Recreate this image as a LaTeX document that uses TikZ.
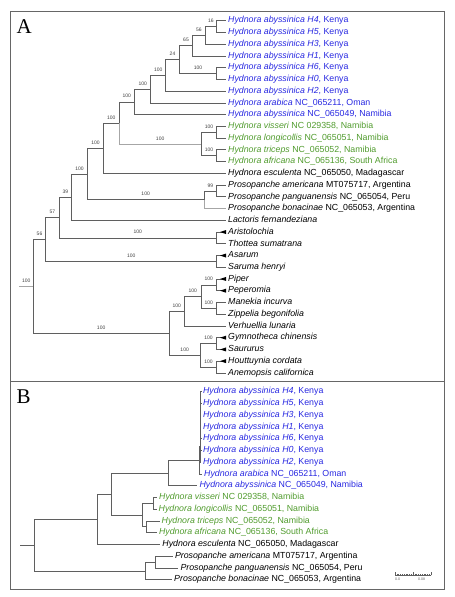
\documentclass[tikz,border=0pt]{standalone}
\usepackage{fontspec}
\setmainfont{Liberation Serif}
\setsansfont{Liberation Sans}
\usepackage{xcolor}
\definecolor{hblue}{RGB}{40,40,225}
\definecolor{hgreen}{RGB}{80,155,45}
\definecolor{branchgrey}{RGB}{95,95,95}

\begin{document}
\begin{tikzpicture}[x=1pt,y=-1pt,
    leaf/.style={anchor=west, inner sep=2pt, font=\sffamily\fontsize{8.8}{10}\selectfont, text height=6.3pt, text depth=1.8pt},
    blueleaf/.style={leaf, text=hblue},
    greenleaf/.style={leaf, text=hgreen},
    branch/.style={draw=branchgrey, line width=0.7pt},
    faint/.style={draw=black!35, line width=0.7pt},
    boot/.style={pos=0.75, above=3pt, inner sep=0.5pt, font=\sffamily\fontsize{5}{5}\selectfont, text=black!75},
    panel/.style={draw=black!60, line width=0.9pt},
    letter/.style={anchor=base west, inner sep=0pt, font=\rmfamily\fontsize{21}{21}\selectfont}]
            \useasboundingbox (0,0) rectangle (455,597);
            \draw[panel] (10.3,11.3) rectangle (444.5,381.7);
            \draw[panel] (10.3,381.7) rectangle (444.5,589.5);
            \node[letter] (labA) at (16.5,33.3) {A};
            \node[letter] (labB) at (16.5,403.6) {B};

            % panel A: leaves
            \node[blueleaf] (aH4) at (226,20.7) {\textit{Hydnora abyssinica H4}, Kenya};
            \node[blueleaf] (aH5) at (226,32.44) {\textit{Hydnora abyssinica H5}, Kenya};
            \node[blueleaf] (aH3) at (226,44.18) {\textit{Hydnora abyssinica H3}, Kenya};
            \node[blueleaf] (aH1) at (226,55.92) {\textit{Hydnora abyssinica H1}, Kenya};
            \node[blueleaf] (aH6) at (226,67.66) {\textit{Hydnora abyssinica H6}, Kenya};
            \node[blueleaf] (aH0) at (226,79.4) {\textit{Hydnora abyssinica H0}, Kenya};
            \node[blueleaf] (aH2) at (226,91.14) {\textit{Hydnora abyssinica H2}, Kenya};
            \node[blueleaf] (aArab) at (226,102.88) {\textit{Hydnora arabica} NC\_065211, Oman};
            \node[blueleaf] (aAbyN) at (226,114.62) {\textit{Hydnora abyssinica} NC\_065049, Namibia};
            \node[greenleaf] (aViss) at (226,126.36) {\textit{Hydnora visseri} NC 029358, Namibia};
            \node[greenleaf] (aLong) at (226,138.1) {\textit{Hydnora longicollis} NC\_065051, Namibia};
            \node[greenleaf] (aTric) at (226,149.84) {\textit{Hydnora triceps} NC\_065052, Namibia};
            \node[greenleaf] (aAfri) at (226,161.58) {\textit{Hydnora africana} NC\_065136, South Africa};
            \node[leaf] (aEsc) at (226,173.32) {\textit{Hydnora esculenta} NC\_065050, Madagascar};
            \node[leaf] (aAmer) at (226,185.06) {\textit{Prosopanche americana} MT075717, Argentina};
            \node[leaf] (aPang) at (226,196.8) {\textit{Prosopanche panguanensis} NC\_065054, Peru};
            \node[leaf] (aBona) at (226,208.54) {\textit{Prosopanche bonacinae} NC\_065053, Argentina};
            \node[leaf] (aLact) at (226,220.28) {\textit{Lactoris fernandeziana}};
            \node[leaf] (aArist) at (226,232.02) {\textit{Aristolochia}};
            \node[leaf] (aThot) at (226,243.76) {\textit{Thottea sumatrana}};
            \node[leaf] (aAsar) at (226,255.5) {\textit{Asarum}};
            \node[leaf] (aSaru) at (226,267.24) {\textit{Saruma henryi}};
            \node[leaf] (aPip) at (226,278.98) {\textit{Piper}};
            \node[leaf] (aPep) at (226,290.72) {\textit{Peperomia}};
            \node[leaf] (aMan) at (226,302.46) {\textit{Manekia incurva}};
            \node[leaf] (aZip) at (226,314.2) {\textit{Zippelia begonifolia}};
            \node[leaf] (aVerh) at (226,325.94) {\textit{Verhuellia lunaria}};
            \node[leaf] (aGymn) at (226,337.68) {\textit{Gymnotheca chinensis}};
            \node[leaf] (aSaur) at (226,349.42) {\textit{Saururus}};
            \node[leaf] (aHout) at (226,361.16) {\textit{Houttuynia cordata}};
            \node[leaf] (aAnem) at (226,372.9) {\textit{Anemopsis californica}};

            % panel A: internal nodes
            \coordinate (a1) at (216.7,26.57);
            \coordinate (a2) at (205,35.38);
            \coordinate (a3) at (192.7,45.65);
            \coordinate (a4) at (216.7,73.53);
            \coordinate (a5) at (179.3,59.59);
            \coordinate (a6) at (165.7,75.37);
            \coordinate (a7) at (150.7,89.12);
            \coordinate (a8) at (134.7,101.87);
            \coordinate (g1) at (216.7,132.23);
            \coordinate (g2) at (216.7,155.71);
            \coordinate (g3) at (201.3,143.97);
            \coordinate (a9) at (119,122.92);
            \coordinate (a10) at (103.7,148.12);
            \coordinate (p1) at (216.7,190.93);
            \coordinate (p2) at (204,199.74);
            \coordinate (a11) at (87.3,173.93);
            \coordinate (a12) at (71.7,197.1);
            \coordinate (r1) at (216.7,237.89);
            \coordinate (a13) at (59,217.5);
            \coordinate (r2) at (216.7,261.37);
            \coordinate (a14) at (45.7,239.43);
            \coordinate (pp1) at (216.7,284.85);
            \coordinate (pp2) at (216.7,308.33);
            \coordinate (pp3) at (201,296.59);
            \coordinate (pp4) at (184.7,311.27);
            \coordinate (s1) at (216.7,343.55);
            \coordinate (s2) at (216.7,367.03);
            \coordinate (s3) at (200.3,355.29);
            \coordinate (pp5) at (169,333.28);
            \coordinate (aroot) at (33.3,286.36);
            \coordinate (astub) at (19.3,286.36);

            % panel A: branches
            \draw[faint] (astub) -- node[boot,pos=0.5]{100} (aroot);
            \draw[branch] (aroot) |- node[boot]{56} (a14);
            \draw[branch] (aroot) |- node[boot]{100} (pp5);
            \draw[branch] (a14) |- node[boot]{57} (a13);
            \draw[branch] (a14) |- node[boot]{100} (r2);
            \draw[branch] (a13) |- node[boot]{39} (a12);
            \draw[branch] (a13) |- node[boot]{100} (r1);
            \draw[branch] (a12) |- node[boot]{100} (a11);
            \draw[branch] (a12) |- (aLact.west);
            \draw[branch] (a11) |- node[boot]{100} (a10);
            \draw[branch] (a11) |- node[boot]{100} (p2);
            \draw[branch] (a10) |- node[boot]{100} (a9);
            \draw[branch] (a10) |- (aEsc.west);
            \draw[branch] (a9) |- node[boot]{100} (a8);
            \draw[faint] (a9) |- node[boot]{100} (g3);
            \draw[branch] (a8) |- node[boot]{100} (a7);
            \draw[branch] (a8) |- (aAbyN.west);
            \draw[branch] (a7) |- node[boot]{100} (a6);
            \draw[branch] (a7) |- (aArab.west);
            \draw[branch] (a6) |- node[boot]{24} (a5);
            \draw[branch] (a6) |- (aH2.west);
            \draw[branch] (a5) |- node[boot]{65} (a3);
            \draw[branch] (a5) |- node[boot]{100} (a4);
            \draw[branch] (a3) |- node[boot]{56} (a2);
            \draw[branch] (a3) |- (aH1.west);
            \draw[branch] (a2) |- node[boot]{16} (a1);
            \draw[branch] (a2) |- (aH3.west);
            \draw[branch] (a1) |- (aH4.west) (a1) |- (aH5.west);
            \draw[branch] (a4) |- (aH6.west) (a4) |- (aH0.west);
            \draw[branch] (g3) |- node[boot]{100} (g1);
            \draw[branch] (g3) |- node[boot]{100} (g2);
            \draw[branch] (g1) |- (aViss.west) (g1) |- (aLong.west);
            \draw[branch] (g2) |- (aTric.west) (g2) |- (aAfri.west);
            \draw[branch] (p2) |- node[boot]{99} (p1);
            \draw[faint] (p2) |- (aBona.west);
            \draw[branch] (p1) |- (aAmer.west) (p1) |- (aPang.west);
            \draw[branch] (r1) |- (aArist.west) (r1) |- (aThot.west);
            \draw[branch] (r2) |- (aAsar.west) (r2) |- (aSaru.west);
            \draw[branch] (pp5) |- node[boot]{100} (pp4);
            \draw[branch] (pp5) |- node[boot]{100} (s3);
            \draw[branch] (pp4) |- node[boot]{100} (pp3);
            \draw[branch] (pp4) |- (aVerh.west);
            \draw[branch] (pp3) |- node[boot]{100} (pp1);
            \draw[branch] (pp3) |- node[boot]{100} (pp2);
            \draw[branch] (pp1) |- (aPip.west) (pp1) |- (aPep.west);
            \draw[branch] (pp2) |- (aMan.west) (pp2) |- (aZip.west);
            \draw[branch] (s3) |- node[boot]{100} (s1);
            \draw[branch] (s3) |- node[boot]{100} (s2);
            \draw[branch] (s1) |- (aGymn.west) (s1) |- (aSaur.west);
            \draw[branch] (s2) |- (aHout.west) (s2) |- (aAnem.west);

            % collapsed clades
            \fill (aArist.west) ++(-6,0) -- ++(6,-2) -- ++(0,4) -- cycle;
            \fill (aAsar.west) ++(-6,0) -- ++(6,-2) -- ++(0,4) -- cycle;
            \fill (aPip.west) ++(-6,0) -- ++(6,-2) -- ++(0,4) -- cycle;
            \fill (aPep.west) ++(-6,0) -- ++(6,-2) -- ++(0,4) -- cycle;
            \fill (aGymn.west) ++(-6,0) -- ++(6,-2) -- ++(0,4) -- cycle;
            \fill (aSaur.west) ++(-6,0) -- ++(6,-2) -- ++(0,4) -- cycle;
            \fill (aHout.west) ++(-6,0) -- ++(6,-2) -- ++(0,4) -- cycle;

            % panel B: leaves
            \node[blueleaf] (bH4) at (200.9,391.7) {\textit{Hydnora abyssinica H4}, Kenya};
            \node[blueleaf] (bH5) at (200.9,403.45) {\textit{Hydnora abyssinica H5}, Kenya};
            \node[blueleaf] (bH3) at (200.9,415.2) {\textit{Hydnora abyssinica H3}, Kenya};
            \node[blueleaf] (bH1) at (200.9,426.95) {\textit{Hydnora abyssinica H1}, Kenya};
            \node[blueleaf] (bH6) at (200.9,438.7) {\textit{Hydnora abyssinica H6}, Kenya};
            \node[blueleaf] (bH0) at (200.9,450.45) {\textit{Hydnora abyssinica H0}, Kenya};
            \node[blueleaf] (bH2) at (200.9,462.2) {\textit{Hydnora abyssinica H2}, Kenya};
            \node[blueleaf] (bArab) at (202,473.95) {\textit{Hydnora arabica} NC\_065211, Oman};
            \node[blueleaf] (bAbyN) at (197.3,485.7) {\textit{Hydnora abyssinica} NC\_065049, Namibia};
            \node[greenleaf] (bViss) at (157,497.45) {\textit{Hydnora visseri} NC 029358, Namibia};
            \node[greenleaf] (bLong) at (156.5,509.2) {\textit{Hydnora longicollis} NC\_065051, Namibia};
            \node[greenleaf] (bTric) at (159.5,520.95) {\textit{Hydnora triceps} NC\_065052, Namibia};
            \node[greenleaf] (bAfri) at (156.8,532.7) {\textit{Hydnora africana} NC\_065136, South Africa};
            \node[leaf] (bEsc) at (160.2,544.45) {\textit{Hydnora esculenta} NC\_065050, Madagascar};
            \node[leaf] (bAmer) at (172.8,556.2) {\textit{Prosopanche americana} MT075717, Argentina};
            \node[leaf] (bPang) at (178.3,567.95) {\textit{Prosopanche panguanensis} NC\_065054, Peru};
            \node[leaf] (bBona) at (172,579.7) {\textit{Prosopanche bonacinae} NC\_065053, Argentina};

            % panel B: internal nodes
            \coordinate (bk1) at (200.6,397.58);
            \coordinate (bk2) at (200.45,406.39);
            \coordinate (bk3) at (200.3,416.67);
            \coordinate (bk4) at (200.6,444.58);
            \coordinate (bk5) at (200.15,430.62);
            \coordinate (bK) at (200,446.41);
            \coordinate (bKA) at (199.2,460.18);
            \coordinate (bA) at (168.5,472.94);
            \coordinate (bg1) at (153.3,503.33);
            \coordinate (bg2) at (146.7,526.83);
            \coordinate (bg3) at (142.7,515.08);
            \coordinate (bAG) at (111,494.01);
            \coordinate (bH) at (97.7,519.23);
            \coordinate (bp1) at (155.7,562.08);
            \coordinate (bp2) at (145.7,570.89);
            \coordinate (broot) at (34,545.06);
            \coordinate (bstub) at (20,545.06);

            % panel B: branches
            \draw[branch] (bstub) -- (broot);
            \draw[branch] (broot) |- (bH) (broot) |- (bp2);
            \draw[branch] (bH) |- (bAG) (bH) |- (bEsc.west);
            \draw[branch] (bAG) |- (bA) (bAG) |- (bg3);
            \draw[branch] (bA) |- (bKA) (bA) |- (bAbyN.west);
            \draw[branch] (bKA) |- (bK) (bKA) |- (bArab.west);
            \draw[branch] (bK) |- (bk5) (bK) |- (bH2.west);
            \draw[branch] (bk5) |- (bk3) (bk5) |- (bk4);
            \draw[branch] (bk3) |- (bk2) (bk3) |- (bH1.west);
            \draw[branch] (bk2) |- (bk1) (bk2) |- (bH3.west);
            \draw[branch] (bk1) |- (bH4.west) (bk1) |- (bH5.west);
            \draw[branch] (bk4) |- (bH6.west) (bk4) |- (bH0.west);
            \draw[branch] (bg3) |- (bg1) (bg3) |- (bg2);
            \draw[branch] (bg1) |- (bViss.west) (bg1) |- (bLong.west);
            \draw[branch] (bg2) |- (bTric.west) (bg2) |- (bAfri.west);
            \draw[branch] (bp2) |- (bp1) (bp2) |- (bBona.west);
            \draw[branch] (bp1) |- (bAmer.west) (bp1) |- (bPang.west);

            % scale bar
            \draw[branchgrey, line width=0.4pt] (395,575.3) -- (431,575.3);
            \foreach \i in {0,...,20}
                \draw[branchgrey, line width=0.3pt] (395+1.8*\i,575.3) -- ++(0,-1.5);
            \foreach \i in {0,10,20}
                \draw[branchgrey, line width=0.3pt] (395+1.8*\i,575.3) -- ++(0,-3);
            \node[inner sep=0pt, font=\sffamily\fontsize{3.6}{4}\selectfont, text=black!60] (sc0) at (397.5,579.3) {0.0};
            \node[inner sep=0pt, font=\sffamily\fontsize{3.6}{4}\selectfont, text=black!60] (sc1) at (421.5,579.3) {0.08};
        \end{tikzpicture}
\end{document}
